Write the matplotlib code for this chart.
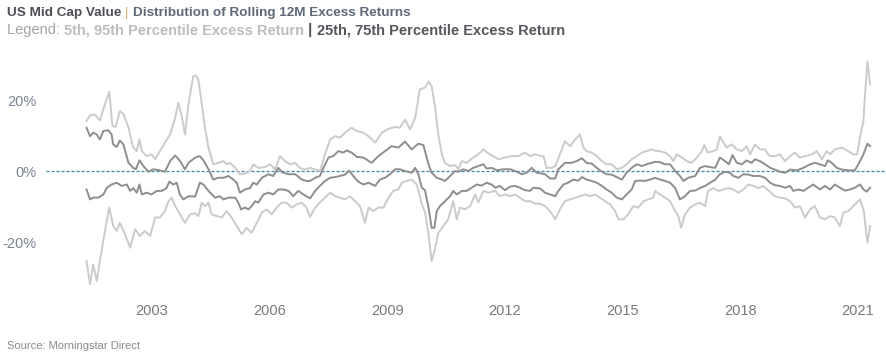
import matplotlib
matplotlib.use("Agg")
import matplotlib.pyplot as plt
from matplotlib.ticker import FuncFormatter

plt.rcParams['font.family'] = ['Liberation Sans', 'DejaVu Sans']

# Rolling 12M excess return percentiles (%), x in decimal years
p95_x = [2001.33, 2001.42, 2001.55, 2001.67, 2001.80, 2001.91, 2001.99, 2002.07, 2002.18, 2002.27,
         2002.40, 2002.52, 2002.61, 2002.68, 2002.74, 2002.86, 2002.99, 2003.08, 2003.20, 2003.33,
         2003.46, 2003.59, 2003.67, 2003.76, 2003.84, 2003.93, 2004.05, 2004.12, 2004.18, 2004.27,
         2004.35, 2004.44, 2004.56, 2004.69, 2004.82, 2004.90, 2004.99, 2005.12, 2005.24, 2005.37,
         2005.50, 2005.58, 2005.71, 2005.88, 2006.01, 2006.14, 2006.26, 2006.39, 2006.52, 2006.65,
         2006.77, 2006.90, 2007.03, 2007.16, 2007.28, 2007.41, 2007.54, 2007.67, 2007.79, 2007.92,
         2008.09, 2008.22, 2008.39, 2008.52, 2008.69, 2008.86, 2009.03, 2009.20, 2009.32, 2009.45,
         2009.58, 2009.71, 2009.83, 2009.96, 2010.05, 2010.13, 2010.22, 2010.30, 2010.39, 2010.47,
         2010.60, 2010.73, 2010.81, 2010.90, 2011.02, 2011.19, 2011.32, 2011.45, 2011.57, 2011.70,
         2011.83, 2012.00, 2012.17, 2012.34, 2012.51, 2012.64, 2012.77, 2012.89, 2012.98, 2013.06,
         2013.19, 2013.28, 2013.40, 2013.53, 2013.66, 2013.79, 2013.91, 2014.00, 2014.08, 2014.21,
         2014.34, 2014.47, 2014.59, 2014.72, 2014.85, 2014.98, 2015.10, 2015.23, 2015.36, 2015.49,
         2015.61, 2015.74, 2015.83, 2015.95, 2016.08, 2016.21, 2016.29, 2016.38, 2016.51, 2016.63,
         2016.76, 2016.89, 2017.02, 2017.08, 2017.17, 2017.31, 2017.40, 2017.48, 2017.57, 2017.65,
         2017.78, 2017.91, 2018.04, 2018.16, 2018.25, 2018.37, 2018.50, 2018.63, 2018.71, 2018.76,
         2018.88, 2019.01, 2019.14, 2019.27, 2019.39, 2019.52, 2019.65, 2019.82, 2019.95, 2020.08,
         2020.20, 2020.29, 2020.41, 2020.59, 2020.75, 2020.88, 2020.98, 2021.05, 2021.14, 2021.18,
         2021.24, 2021.31]
p95_v = [14.2, 15.8, 16.0, 14.4, 18.9, 22.4, 12.8, 12.5, 17.0, 16.2,
         12.3, 6.7, 5.7, 9.0, 5.7, 4.3, 4.8, 3.4, 5.7, 8.1,
         10.4, 15.1, 19.3, 15.6, 10.4, 18.9, 26.8, 27.0, 25.9, 18.9,
         12.3, 6.7, 2.0, 2.4, 2.9, 2.0, 2.4, 1.0, -0.8, -0.6,
         0.1, 2.0, 1.0, 1.2, 2.0, 0.5, 4.3, 2.9, 2.0, 2.4,
         1.0, 0.5, 1.0, 0.5, 0.1, 4.8, 9.0, 9.9, 9.5, 10.9,
         12.3, 11.4, 10.9, 9.9, 8.1, 10.9, 12.0, 12.5, 12.3, 14.6,
         11.8, 15.1, 23.1, 23.6, 25.3, 24.0, 17.9, 10.4, 4.8, 2.4,
         1.5, 1.8, 0.6, 2.9, 2.4, 3.9, 4.8, 6.2, 5.1, 4.3,
         3.4, 3.9, 4.3, 4.3, 5.3, 4.3, 4.8, 4.4, 4.3, 1.0,
         1.0, 1.5, 4.8, 8.5, 7.1, 9.0, 10.4, 6.7, 5.7, 5.3,
         4.3, 2.9, 2.0, 2.0, 0.6, 1.0, 2.0, 3.4, 4.3, 5.3,
         5.7, 6.2, 5.8, 5.7, 5.3, 4.3, 2.9, 4.8, 3.9, 2.9,
         2.4, 3.9, 5.7, 7.4, 5.3, 5.7, 6.2, 9.9, 8.1, 6.7,
         7.6, 6.2, 5.7, 7.1, 4.8, 7.6, 6.2, 6.2, 4.8, 4.3,
         4.3, 4.8, 2.9, 4.3, 5.3, 3.9, 4.3, 4.8, 5.7, 3.4,
         5.7, 4.8, 6.2, 6.7, 5.7, 4.8, 4.8, 9.5, 14.2, 21.7,
         30.9, 24.5]

p75_x = [2001.33, 2001.42, 2001.50, 2001.59, 2001.67, 2001.76, 2001.89, 2001.97, 2002.01, 2002.10,
         2002.18, 2002.27, 2002.40, 2002.52, 2002.59, 2002.68, 2002.78, 2002.91, 2003.03, 2003.20,
         2003.33, 2003.46, 2003.59, 2003.71, 2003.84, 2003.93, 2004.10, 2004.22, 2004.31, 2004.44,
         2004.56, 2004.69, 2004.82, 2004.95, 2005.07, 2005.16, 2005.24, 2005.37, 2005.50, 2005.58,
         2005.67, 2005.80, 2005.97, 2006.09, 2006.22, 2006.32, 2006.48, 2006.65, 2006.82, 2006.94,
         2007.03, 2007.16, 2007.28, 2007.37, 2007.50, 2007.62, 2007.75, 2007.88, 2007.96, 2008.09,
         2008.22, 2008.39, 2008.60, 2008.77, 2008.94, 2009.11, 2009.28, 2009.45, 2009.62, 2009.79,
         2009.92, 2009.96, 2010.05, 2010.13, 2010.26, 2010.39, 2010.47, 2010.60, 2010.73, 2010.81,
         2010.94, 2011.06, 2011.19, 2011.32, 2011.45, 2011.53, 2011.66, 2011.79, 2011.96, 2012.13,
         2012.30, 2012.43, 2012.55, 2012.68, 2012.81, 2012.89, 2013.02, 2013.15, 2013.28, 2013.36,
         2013.53, 2013.70, 2013.83, 2013.96, 2014.08, 2014.21, 2014.34, 2014.47, 2014.59, 2014.72,
         2014.85, 2014.98, 2015.10, 2015.23, 2015.36, 2015.49, 2015.61, 2015.74, 2015.83, 2015.95,
         2016.08, 2016.21, 2016.34, 2016.46, 2016.55, 2016.67, 2016.85, 2016.97, 2017.10, 2017.23,
         2017.36, 2017.48, 2017.61, 2017.71, 2017.80, 2017.91, 2018.04, 2018.16, 2018.29, 2018.37,
         2018.50, 2018.63, 2018.76, 2018.88, 2019.01, 2019.14, 2019.27, 2019.44, 2019.61, 2019.78,
         2019.90, 2020.03, 2020.16, 2020.23, 2020.33, 2020.46, 2020.59, 2020.75, 2020.92, 2021.01,
         2021.14, 2021.24, 2021.31]
p75_v = [12.3, 9.9, 10.9, 10.4, 9.0, 11.4, 11.6, 10.4, 7.6, 6.9,
         8.7, 7.6, 2.4, 1.0, 0.6, 3.1, 1.5, -0.1, 0.6, 0.3,
         -0.1, 2.9, 4.5, 3.0, 0.6, 2.4, 3.9, 4.3, 3.1, 0.6,
         -2.3, -1.8, -1.8, -1.3, -2.3, -3.2, -6.0, -5.1, -4.7, -3.2,
         -3.7, -1.8, -0.8, -1.3, 1.0, -0.3, -0.8, -0.8, -2.3, -2.7,
         -2.7, -1.8, -1.3, 1.0, 3.9, 4.3, 5.7, 5.3, 5.9, 5.3,
         4.1, 3.9, 2.4, 4.3, 5.7, 7.1, 6.7, 8.4, 6.2, 7.8,
         7.4, 5.7, 2.0, -0.4, -1.8, -2.3, -2.7, -1.3, 0.1, -0.1,
         0.6, 0.1, 1.0, 1.5, 2.0, 0.8, 1.0, 0.3, 0.6, 0.6,
         -0.1, -0.8, -0.4, 1.0, -0.4, -0.5, -0.8, -2.0, -2.0, 0.6,
         2.4, 2.4, 2.9, 3.7, 2.4, 2.2, 1.0, -0.1, -0.8, -0.9,
         -1.6, -2.3, -0.4, 1.0, 2.0, 1.5, 2.0, 2.4, 2.7, 2.6,
         2.0, 2.0, 0.1, -1.3, -2.7, -1.8, -1.3, 1.0, 1.5, 1.2,
         1.0, 3.9, 2.9, 2.0, 4.6, 2.4, 2.0, 3.1, 2.4, 3.4,
         2.9, 2.0, 1.0, 0.5, -0.1, -0.4, 0.5, 0.3, 1.0, 2.0,
         2.4, 2.0, 1.5, 3.1, 2.4, 1.0, 0.5, 0.3, 0.3, 2.0,
         4.8, 7.8, 7.1]

p25_x = [2001.33, 2001.42, 2001.50, 2001.63, 2001.76, 2001.85, 2001.97, 2002.10, 2002.23, 2002.36,
         2002.44, 2002.52, 2002.61, 2002.68, 2002.74, 2002.86, 2002.99, 2003.12, 2003.25, 2003.37,
         2003.44, 2003.54, 2003.63, 2003.71, 2003.80, 2003.93, 2004.10, 2004.22, 2004.31, 2004.44,
         2004.61, 2004.73, 2004.82, 2004.95, 2005.12, 2005.20, 2005.27, 2005.37, 2005.46, 2005.54,
         2005.63, 2005.71, 2005.84, 2005.97, 2006.09, 2006.22, 2006.35, 2006.48, 2006.60, 2006.73,
         2006.86, 2007.03, 2007.16, 2007.28, 2007.41, 2007.54, 2007.67, 2007.79, 2007.92, 2008.03,
         2008.13, 2008.26, 2008.39, 2008.52, 2008.69, 2008.81, 2008.94, 2009.07, 2009.20, 2009.32,
         2009.45, 2009.62, 2009.71, 2009.79, 2009.88, 2009.96, 2010.05, 2010.13, 2010.20, 2010.26,
         2010.34, 2010.47, 2010.60, 2010.68, 2010.77, 2010.90, 2011.02, 2011.15, 2011.28, 2011.41,
         2011.53, 2011.66, 2011.75, 2011.87, 2012.00, 2012.13, 2012.26, 2012.38, 2012.51, 2012.64,
         2012.72, 2012.89, 2013.02, 2013.15, 2013.28, 2013.36, 2013.49, 2013.61, 2013.74, 2013.87,
         2013.96, 2014.08, 2014.21, 2014.34, 2014.47, 2014.59, 2014.72, 2014.85, 2014.98, 2015.10,
         2015.23, 2015.32, 2015.44, 2015.57, 2015.70, 2015.83, 2015.95, 2016.08, 2016.21, 2016.34,
         2016.46, 2016.59, 2016.72, 2016.85, 2016.97, 2017.10, 2017.23, 2017.36, 2017.48, 2017.61,
         2017.74, 2017.82, 2017.95, 2018.08, 2018.20, 2018.33, 2018.50, 2018.63, 2018.76, 2018.88,
         2019.01, 2019.14, 2019.27, 2019.35, 2019.48, 2019.61, 2019.73, 2019.86, 2020.03, 2020.16,
         2020.29, 2020.41, 2020.54, 2020.67, 2020.80, 2020.92, 2021.05, 2021.14, 2021.22, 2021.31]
p25_v = [-5.1, -7.9, -7.4, -7.4, -6.5, -4.6, -3.7, -3.2, -4.1, -3.7,
         -5.5, -4.7, -6.0, -3.7, -6.5, -6.0, -6.5, -5.5, -5.5, -4.7,
         -2.9, -3.7, -3.2, -6.5, -7.9, -7.0, -7.1, -3.2, -3.7, -5.5,
         -7.4, -7.0, -7.9, -7.4, -7.4, -8.8, -10.7, -10.2, -10.7, -9.8,
         -8.4, -8.8, -6.5, -6.0, -6.5, -5.1, -5.1, -5.5, -7.0, -5.5,
         -6.5, -7.6, -5.5, -4.1, -2.7, -1.8, -1.6, -1.3, -0.9, 0.2,
         -1.3, -2.9, -3.7, -3.2, -4.1, -2.3, -1.8, -0.8, 0.6, 0.6,
         0.1, -0.4, 1.0, -0.8, -4.6, -5.3, -10.2, -15.9, -15.9, -11.2,
         -9.8, -8.4, -7.0, -5.5, -6.5, -5.5, -5.5, -4.6, -3.7, -4.0,
         -3.2, -3.7, -4.6, -4.1, -5.3, -4.3, -4.1, -4.6, -5.3, -5.5,
         -4.6, -4.8, -6.0, -6.5, -7.0, -5.5, -3.7, -3.2, -2.3, -2.6,
         -1.6, -2.3, -2.7, -3.2, -4.1, -5.1, -6.0, -7.4, -7.9, -6.5,
         -5.1, -2.7, -2.6, -2.7, -2.3, -1.8, -2.3, -2.7, -3.2, -4.7,
         -7.9, -7.0, -5.5, -5.4, -4.7, -4.1, -3.2, -2.3, -0.8, -0.1,
         -0.4, -1.3, -1.8, -0.8, -0.9, -1.3, -1.3, -1.8, -3.2, -3.9,
         -4.1, -4.6, -4.1, -5.5, -5.1, -5.5, -4.6, -3.7, -5.1, -4.1,
         -5.1, -3.7, -4.6, -5.4, -5.1, -4.6, -3.7, -5.1, -5.7, -4.6]

p5_x = [2001.33, 2001.42, 2001.50, 2001.59, 2001.67, 2001.80, 2001.91, 2002.01, 2002.10, 2002.18,
        2002.31, 2002.44, 2002.57, 2002.69, 2002.82, 2002.95, 2003.08, 2003.20, 2003.33, 2003.42,
        2003.50, 2003.59, 2003.67, 2003.76, 2003.84, 2003.97, 2004.10, 2004.18, 2004.27, 2004.35,
        2004.44, 2004.52, 2004.65, 2004.78, 2004.90, 2005.03, 2005.16, 2005.29, 2005.41, 2005.54,
        2005.67, 2005.80, 2005.92, 2006.05, 2006.18, 2006.31, 2006.43, 2006.56, 2006.69, 2006.82,
        2006.94, 2007.03, 2007.16, 2007.28, 2007.41, 2007.54, 2007.67, 2007.79, 2007.92, 2008.05,
        2008.18, 2008.30, 2008.43, 2008.52, 2008.64, 2008.77, 2008.90, 2009.03, 2009.15, 2009.28,
        2009.37, 2009.49, 2009.62, 2009.75, 2009.88, 2009.96, 2010.05, 2010.13, 2010.20, 2010.30,
        2010.43, 2010.55, 2010.68, 2010.77, 2010.85, 2010.98, 2011.11, 2011.24, 2011.32, 2011.45,
        2011.57, 2011.75, 2011.87, 2012.00, 2012.13, 2012.26, 2012.38, 2012.51, 2012.64, 2012.77,
        2012.89, 2013.02, 2013.15, 2013.28, 2013.40, 2013.53, 2013.66, 2013.79, 2013.91, 2014.04,
        2014.17, 2014.30, 2014.42, 2014.55, 2014.68, 2014.81, 2014.89, 2015.02, 2015.14, 2015.27,
        2015.40, 2015.53, 2015.65, 2015.78, 2015.83, 2015.95, 2016.08, 2016.21, 2016.34, 2016.42,
        2016.49, 2016.59, 2016.72, 2016.85, 2016.97, 2017.10, 2017.18, 2017.31, 2017.44, 2017.57,
        2017.69, 2017.82, 2017.95, 2018.08, 2018.20, 2018.33, 2018.46, 2018.59, 2018.76, 2018.88,
        2019.01, 2019.14, 2019.27, 2019.39, 2019.52, 2019.65, 2019.78, 2019.90, 2020.03, 2020.16,
        2020.29, 2020.41, 2020.54, 2020.63, 2020.75, 2020.88, 2021.05, 2021.15, 2021.24, 2021.31]
p5_v = [-25.3, -31.8, -26.2, -30.9, -25.3, -16.8, -10.2, -15.4, -16.8, -14.5,
        -17.7, -21.5, -16.3, -18.2, -16.8, -18.2, -13.0, -13.0, -11.2, -8.4,
        -7.4, -9.8, -11.2, -13.0, -14.5, -12.1, -11.8, -12.6, -8.8, -9.8,
        -8.8, -12.1, -12.6, -13.0, -11.2, -13.0, -15.4, -17.7, -15.9, -17.3,
        -14.5, -11.6, -10.7, -12.1, -10.2, -8.8, -8.8, -10.2, -9.3, -8.8,
        -10.2, -12.8, -10.2, -8.8, -7.4, -6.0, -7.0, -7.4, -7.9, -7.0,
        -8.4, -9.8, -14.5, -10.2, -11.2, -10.2, -10.2, -7.4, -5.5, -5.1,
        -3.2, -2.7, -2.3, -3.7, -9.3, -11.4, -17.7, -25.3, -22.5, -17.3,
        -15.4, -13.5, -8.4, -13.5, -10.2, -10.7, -9.8, -6.5, -8.8, -5.5,
        -6.0, -5.5, -7.0, -6.5, -7.0, -6.5, -7.4, -8.4, -8.4, -9.1,
        -9.1, -9.8, -11.2, -13.5, -10.7, -8.4, -7.9, -7.4, -7.0, -6.5,
        -7.0, -6.5, -7.4, -8.4, -9.3, -11.2, -13.5, -13.5, -12.1, -9.8,
        -10.2, -8.4, -7.9, -7.4, -5.5, -6.5, -7.4, -8.4, -11.2, -12.6,
        -15.9, -12.1, -10.2, -9.3, -8.8, -9.8, -5.5, -4.7, -5.5, -5.1,
        -4.7, -5.1, -6.0, -5.1, -3.7, -4.1, -4.7, -4.1, -5.8, -7.0,
        -7.4, -7.6, -8.4, -10.2, -9.8, -13.0, -10.7, -9.8, -13.0, -13.5,
        -12.6, -13.0, -15.4, -11.6, -11.2, -9.8, -7.9, -11.2, -20.1, -15.4]

year_ticks = [2003, 2006, 2009, 2012, 2015, 2018, 2021]
pct_ticks = [-20, 0, 20]

light = "#cbcbcb"
dark = "#8e8e8e"

fig = plt.figure(figsize=(8.87, 3.57), dpi=100)
ax = fig.add_axes([0.052, 0.172, 0.948, 0.676])

ax.plot(p95_x, p95_v, color=light, lw=1.4, solid_joinstyle="round")
ax.plot(p5_x, p5_v, color=light, lw=1.4, solid_joinstyle="round")
ax.plot(p75_x, p75_v, color=dark, lw=1.4, solid_joinstyle="round")
ax.plot(p25_x, p25_v, color=dark, lw=1.4, solid_joinstyle="round")
ax.axhline(0, color="#3d8aa8", lw=0.9, linestyle=(0, (2.5, 1.5)), zorder=0)

ax.set_xlim(2000.30, 2021.74)
ax.set_ylim(-35, 33)
ax.set_xticks(year_ticks)
ax.set_xticklabels([str(y) for y in year_ticks])
ax.set_yticks(pct_ticks)
ax.yaxis.set_major_formatter(FuncFormatter(lambda v, p: f"{v:.0f}%"))
ax.tick_params(axis="both", length=0)
ax.tick_params(axis="x", pad=6, labelsize=10.5, labelcolor="#7a7a7a")
ax.tick_params(axis="y", pad=7, labelsize=10.5, labelcolor="#7c8392")
for s in ax.spines.values():
    s.set_visible(False)

# title pieces, chained left to right
t1 = fig.text(0.008, 0.954, "US Mid Cap Value", fontsize=9.7, fontweight="bold", color="#4d4f55")
t2 = ax.annotate(" | ", xy=(1, 0), xycoords=t1, fontsize=9.7, color="#d6b66e", va="bottom")
t3 = ax.annotate("Distribution of Rolling 12M Excess Returns", xy=(1, 0), xycoords=t2,
                 fontsize=9.7, fontweight="bold", color="#5e6878", va="bottom")

l1 = fig.text(0.008, 0.904, "Legend: ", fontsize=10.5, color="#a5a5a5")
l2 = ax.annotate("5th, 95th Percentile Excess Return", xy=(1, 0), xycoords=l1,
                 fontsize=10.5, fontweight="bold", color="#bdbdbd", va="bottom")
l3 = ax.annotate(" | ", xy=(1, 0), xycoords=l2, fontsize=10.5, fontweight="bold",
                 color="#4d4f55", va="bottom")
l4 = ax.annotate("25th, 75th Percentile Excess Return", xy=(1, 0), xycoords=l3,
                 fontsize=10.5, fontweight="bold", color="#55575c", va="bottom")

fig.text(0.008, 0.022, "Source: Morningstar Direct", fontsize=8, color="#8a8a8a")

fig.savefig("out.png", dpi=100)
